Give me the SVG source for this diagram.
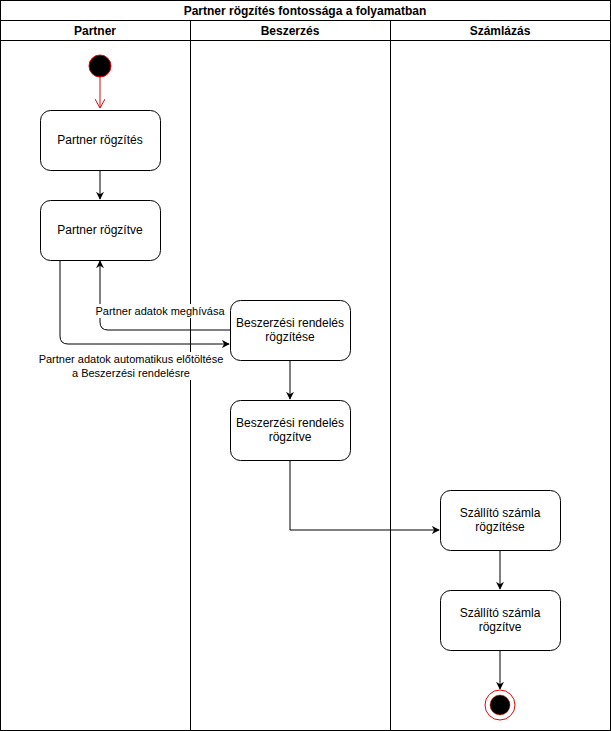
<svg xmlns="http://www.w3.org/2000/svg" width="611" height="731" viewBox="0 0 611 731">
<style>
text{font-family:"Liberation Sans",Arial,sans-serif;font-size:12px;fill:#000}
.h{font-weight:bold;text-anchor:middle}
.n rect{fill:#fff;stroke:#000;stroke-width:1}
.n text{text-anchor:middle}
.c{fill:none;stroke:#000;stroke-width:1}
.lbl{text-anchor:middle;font-size:11px}
</style>
<defs>
<marker id="a" viewBox="0 0 10 10" refX="9" refY="5" markerWidth="8" markerHeight="8" orient="auto" markerUnits="userSpaceOnUse"><path d="M0,0 L10,5 L0,10 L3,5 Z" fill="#000"/></marker>
<marker id="o" viewBox="0 0 10 10" refX="9" refY="5" markerWidth="10" markerHeight="10" orient="auto" markerUnits="userSpaceOnUse"><path d="M0,0 L9,5 L0,10" fill="none" stroke="#e00" stroke-width="1"/></marker>
</defs>
<rect width="611" height="731" fill="#fff"/>
<g id="pool">
<rect x="0.5" y="0.5" width="610" height="730" fill="none" stroke="#000"/>
<line x1="0" y1="20.5" x2="611" y2="20.5" stroke="#000"/>
<line x1="0" y1="40.5" x2="611" y2="40.5" stroke="#000"/>
<line x1="190.5" y1="20" x2="190.5" y2="731" stroke="#000"/>
<line x1="390.5" y1="20" x2="390.5" y2="731" stroke="#000"/>
<text class="h" x="305" y="15">Partner rögzítés fontossága a folyamatban</text>
<text class="h" x="95" y="35">Partner</text>
<text class="h" x="290" y="35">Beszerzés</text>
<text class="h" x="500" y="35">Számlázás</text>
</g>
<g id="edges">
<line x1="100" y1="77" x2="100" y2="108" stroke="#e00" marker-end="url(#o)"/>
<line class="c" x1="100" y1="170" x2="100" y2="199" marker-end="url(#a)"/>
<path class="c" d="M230,330 H108 Q100,330 100,322 V261" marker-end="url(#a)"/>
<path class="c" d="M60,260 V336 Q60,344 68,344 H229" marker-end="url(#a)"/>
<line class="c" x1="290" y1="360" x2="290" y2="399" marker-end="url(#a)"/>
<path class="c" d="M290,460 V530 H439" marker-end="url(#a)"/>
<line class="c" x1="500" y1="550" x2="500" y2="589" marker-end="url(#a)"/>
<line class="c" x1="500" y1="650" x2="500" y2="689" marker-end="url(#a)"/>
<rect x="95" y="304" width="130" height="14" fill="#fff"/>
<text class="lbl" x="160" y="315">Partner adatok meghívása</text>
<rect x="38" y="352" width="186" height="28" fill="#fff"/>
<text class="lbl" x="131" y="363">Partner adatok automatikus előtöltése</text>
<text class="lbl" x="131" y="377">a Beszerzési rendelésre</text>
</g>
<g id="start"><circle cx="100" cy="66" r="11" fill="#000" stroke="#e00"/></g>
<g id="n1" class="n"><rect x="40.5" y="110.5" width="120" height="60" rx="10"/><text x="100" y="144">Partner rögzítés</text></g>
<g id="n2" class="n"><rect x="40.5" y="200.5" width="120" height="60" rx="10"/><text x="100" y="234">Partner rögzítve</text></g>
<g id="n3" class="n"><rect x="230.5" y="300.5" width="120" height="60" rx="10"/><text x="290" y="327">Beszerzési rendelés</text><text x="290" y="341">rögzítése</text></g>
<g id="n4" class="n"><rect x="230.5" y="400.5" width="120" height="60" rx="10"/><text x="290" y="427">Beszerzési rendelés</text><text x="290" y="441">rögzítve</text></g>
<g id="n5" class="n"><rect x="440.5" y="490.5" width="120" height="60" rx="10"/><text x="500" y="517">Szállító számla</text><text x="500" y="531">rögzítése</text></g>
<g id="n6" class="n"><rect x="440.5" y="590.5" width="120" height="60" rx="10"/><text x="500" y="617">Szállító számla</text><text x="500" y="631">rögzítve</text></g>
<g id="end"><circle cx="500" cy="705" r="15" fill="#fff" stroke="#e00"/><circle cx="500" cy="705" r="10" fill="#000" stroke="#e00" stroke-width="0.5"/></g>
</svg>
